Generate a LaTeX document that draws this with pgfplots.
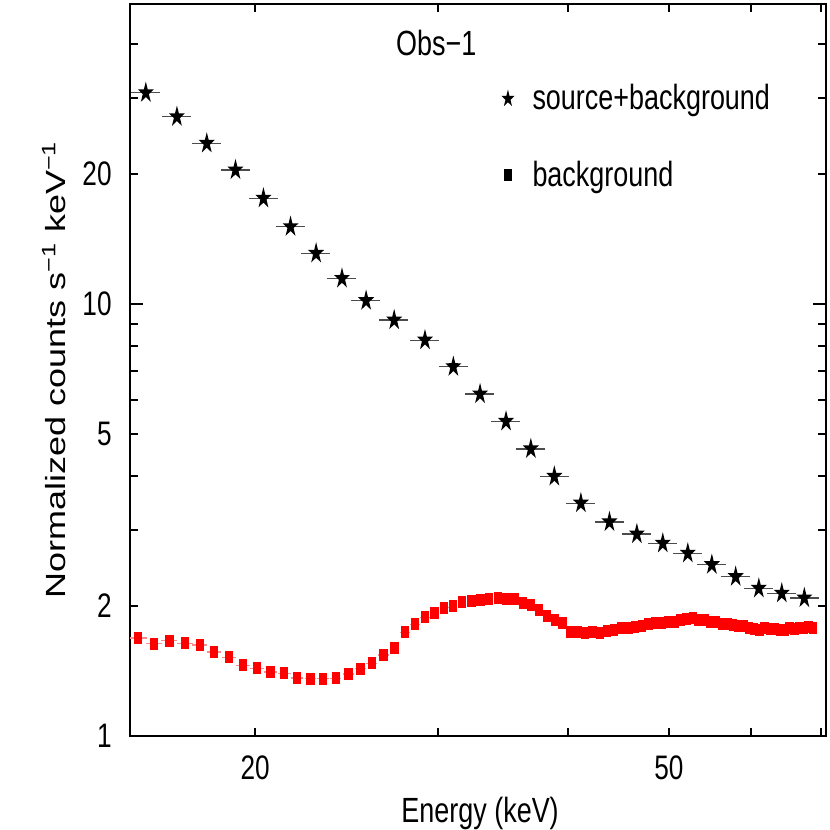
\documentclass[border=0pt]{standalone}
\usepackage{fontspec}
\setmainfont{Liberation Sans}[FakeStretch=0.77]
\newfontfamily\ylfont{Liberation Sans}
\usepackage{graphicx}
\usepackage{pgfplots}
\pgfplotsset{compat=1.18}
\newcommand{\tickfont}{\fontsize{17}{20}\selectfont}
\newcommand{\labfont}{\fontsize{17.5}{20}\selectfont}
\pgfdeclareplotmark{fstar}{%
\pgfpathmoveto{\pgfqpoint{0pt}{\pgfplotmarksize}}%
\pgfpathlineto{\pgfqpoint{-0.1693\pgfplotmarksize}{0.3105\pgfplotmarksize}}%
\pgfpathlineto{\pgfqpoint{-0.7134\pgfplotmarksize}{0.3089\pgfplotmarksize}}%
\pgfpathlineto{\pgfqpoint{-0.2739\pgfplotmarksize}{-0.1186\pgfplotmarksize}}%
\pgfpathlineto{\pgfqpoint{-0.4409\pgfplotmarksize}{-0.8089\pgfplotmarksize}}%
\pgfpathlineto{\pgfqpoint{0pt}{-0.3839\pgfplotmarksize}}%
\pgfpathlineto{\pgfqpoint{0.4409\pgfplotmarksize}{-0.8089\pgfplotmarksize}}%
\pgfpathlineto{\pgfqpoint{0.2739\pgfplotmarksize}{-0.1186\pgfplotmarksize}}%
\pgfpathlineto{\pgfqpoint{0.7134\pgfplotmarksize}{0.3089\pgfplotmarksize}}%
\pgfpathlineto{\pgfqpoint{0.1693\pgfplotmarksize}{0.3105\pgfplotmarksize}}%
\pgfpathclose\pgfusepathqfill}
\pgfdeclareplotmark{rect}{%
\pgfpathrectangle{\pgfqpoint{-0.7\pgfplotmarksize}{-\pgfplotmarksize}}{\pgfqpoint{1.4\pgfplotmarksize}{2\pgfplotmarksize}}%
\pgfusepathqfill}
\pgfplotstableread{
E y
15.70 30.84
16.82 27.14
17.97 23.55
19.15 20.43
20.37 17.57
21.63 15.10
22.89 13.10
24.24 11.46
25.57 10.18
27.21 9.18
29.13 8.25
31.02 7.16
32.91 6.19
34.86 5.35
36.83 4.62
38.80 3.99
41.14 3.46
43.83 3.13
46.57 2.935
49.32 2.793
52.13 2.648
54.98 2.492
57.96 2.338
61.01 2.197
64.19 2.140
67.48 2.087
}\srcbkg
\pgfplotstableread{
E y
15.43 1.686
15.99 1.636
16.54 1.662
17.12 1.639
17.69 1.624
18.26 1.565
18.87 1.521
19.46 1.458
20.08 1.434
20.69 1.406
21.33 1.397
21.95 1.362
22.61 1.357
23.25 1.357
23.91 1.360
24.59 1.392
25.25 1.431
25.89 1.473
26.57 1.540
27.23 1.596
27.88 1.738
28.50 1.813
29.14 1.883
29.75 1.923
30.40 1.982
31.00 2.003
31.63 2.040
32.28 2.050
32.94 2.068
33.57 2.072
34.23 2.083
34.86 2.072
35.51 2.072
36.17 2.028
36.85 2.011
37.51 1.954
38.18 1.893
38.86 1.856
39.50 1.829
40.20 1.744
40.87 1.742
41.53 1.729
42.21 1.742
42.9 1.731
43.6 1.746
44.3 1.760
45.0 1.774
45.7 1.778
46.4 1.788
47.1 1.797
47.8 1.812
48.5 1.822
49.2 1.826
49.9 1.841
50.6 1.836
51.3 1.856
52.0 1.871
52.7 1.876
53.4 1.861
54.1 1.861
54.8 1.841
55.5 1.836
56.2 1.816
56.9 1.812
57.6 1.803
58.3 1.797
59.0 1.793
59.7 1.778
60.4 1.769
61.1 1.764
61.8 1.774
62.5 1.769
63.2 1.769
63.9 1.760
64.6 1.764
65.3 1.774
66.0 1.769
66.7 1.778
67.4 1.783
68.1 1.788
68.8 1.783
}\bkg
\begin{document}
\begin{tikzpicture}
\begin{axis}[
 at={(0,0)}, anchor=south west,
 scale only axis, width=348pt, height=366pt,
 xmode=log, ymode=log,
 xmin=15.16, xmax=70.8, ymin=1, ymax=49.5,
 xtick={20,50}, xticklabels={20,50},
 minor xtick={30,40,60,70},
 ytick={1,2,5,10,20}, yticklabels={1,2,5,10,20},
 minor ytick={3,4,6,7,8,9,30,40},
 extra y ticks={1,10}, extra y tick labels={},
 extra y tick style={major tick length=6.5pt},
 tick align=inside,
 major tick length=4.2pt, minor tick length=4.2pt,
 tick style={black, line width=1.1pt},
 axis line style={line width=1.4pt},
 xticklabel style={font=\tickfont, inner sep=0pt, yshift=-9.5pt},
 yticklabel style={font=\tickfont, inner sep=0pt, xshift=-9pt},
 /pgf/number format/assume math mode=true,
 xlabel={Energy (keV)},
 xlabel style={at={(axis description cs:0.503,-0.1175)}, anchor=base, font=\labfont},
 ylabel={\scalebox{1}[0.77]{\ylfont\fontsize{18}{21}\selectfont Normalized counts s\textsuperscript{−1} keV\textsuperscript{−1}}},
 ylabel style={at={(axis description cs:-0.0934,0.5)}, anchor=base},
 legend style={draw=none, fill=none, at={(axis description cs:0.533,0.896)}, anchor=north west, font=\labfont, row sep=20pt, column sep=7pt, inner sep=0pt},
 legend cell align=left,
]
\addplot[only marks, mark=rect, mark size=3pt, red, forget plot,
  error bars/.cd, x dir=both, x fixed=0.3, error mark=none,
  error bar style={red!45, line width=0.6pt}] table[x=E,y=y] {\bkg};
\addplot[only marks, mark=fstar, mark size=5.6pt, black, forget plot,
  error bars/.cd, x dir=both, x fixed relative=0.032, error mark=none,
  error bar style={black!70, line width=0.6pt}] table[x=E,y=y] {\srcbkg};
\addlegendimage{only marks, mark=fstar, mark size=4.6pt, black}
\addlegendentry{source+background}
\addlegendimage{only marks, mark=rect, mark size=2.9pt, black}
\addlegendentry{background}
\node[font=\labfont] at (axis description cs:0.44,0.947) {Obs−1};
\end{axis}
\pgfresetboundingbox
\path[use as bounding box] (-65pt,-47pt) rectangle (350pt,368pt);
\end{tikzpicture}
\end{document}
